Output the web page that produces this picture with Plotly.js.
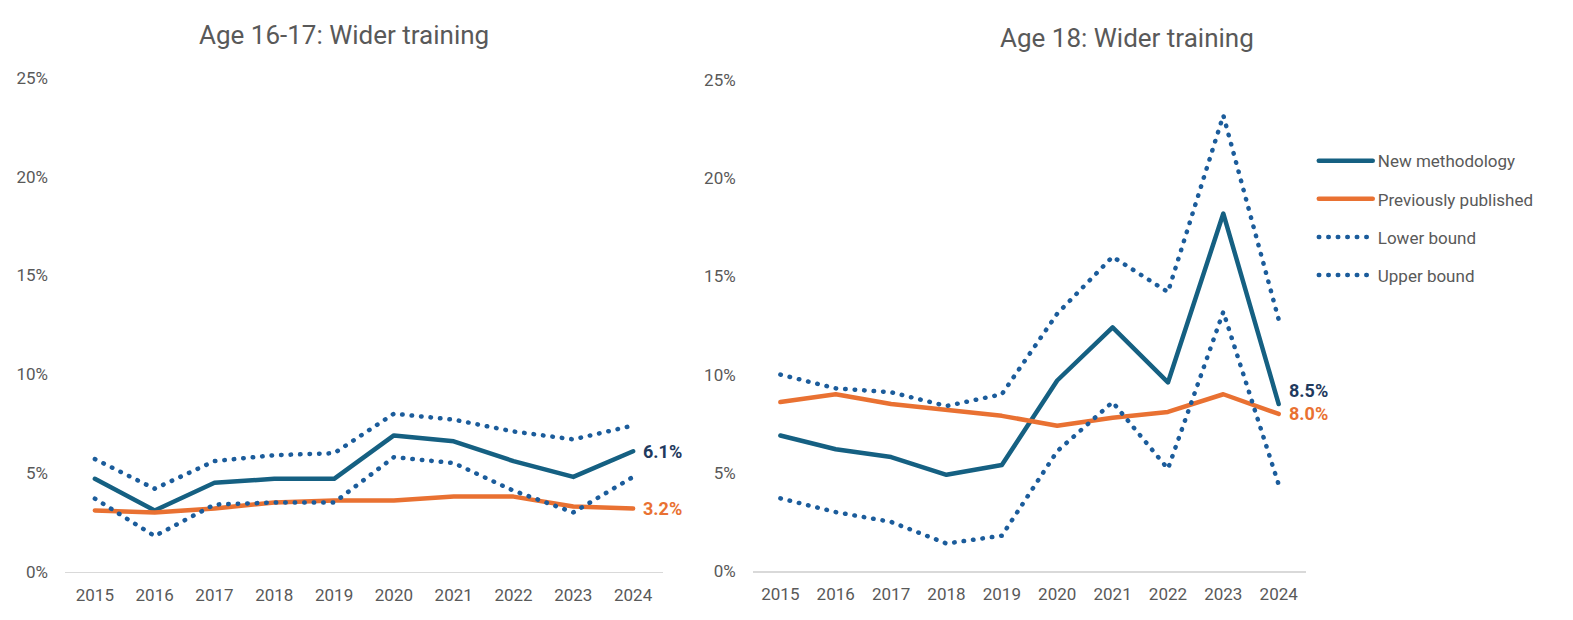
<!DOCTYPE html>
<html>
<head>
<meta charset="utf-8">
<script src="https://cdn.plot.ly/plotly-3.0.1.min.js"></script>
<style>
  html, body { margin: 0; padding: 0; background: #fff; }
  #chart { width: 1573px; height: 620px; }
  /* round dots and joins, like the office chart */
  .scatterlayer path.js-line { stroke-linecap: round; stroke-linejoin: round; }
  .legend path.js-line { stroke-linecap: round; }
</style>
</head>
<body>
<div id="chart"></div>
<script>
// years on the category axis
const years = ['2015', '2016', '2017', '2018', '2019', '2020', '2021', '2022', '2023', '2024'];

// Age 16-17 (values in %)
const young_new = [4.7, 3.1, 4.5, 4.7, 4.7, 6.9, 6.6, 5.6, 4.8, 6.1];
const young_prev = [3.1, 3.0, 3.2, 3.5, 3.6, 3.6, 3.8, 3.8, 3.3, 3.2];
const young_lower = [3.7, 1.8, 3.4, 3.5, 3.5, 5.8, 5.5, 4.1, 3.0, 4.8];
const young_upper = [5.7, 4.2, 5.6, 5.9, 6.0, 8.0, 7.7, 7.1, 6.7, 7.4];

// Age 18 (values in %)
const old_new = [6.9, 6.2, 5.8, 4.9, 5.4, 9.7, 12.4, 9.6, 18.2, 8.5];
const old_prev = [8.6, 9.0, 8.5, 8.2, 7.9, 7.4, 7.8, 8.1, 9.0, 8.0];
const old_lower = [3.7, 3.0, 2.5, 1.4, 1.8, 6.1, 8.6, 5.2, 13.2, 4.4];
const old_upper = [10.0, 9.3, 9.1, 8.4, 9.0, 13.1, 16.0, 14.2, 23.2, 12.8];

const yTicks = [0, 5, 10, 15, 20, 25];

const TEAL = '#156082';
const ORANGE = '#E97132';
const DOTBLUE = '#1B5C9B';
const NAVY = '#1F3A5E';
const GREY = '#595959';
const FONT = 'Roboto, "Liberation Sans", sans-serif';

function makeTraces(newVals, prevVals, lowVals, upVals, xa, ya, legend) {
    // one chart = 4 lines
    let dots = {color: DOTBLUE, width: 4.5, dash: '0.5px,9px'};
    return [
        {x: years, y: newVals, name: 'New methodology', legendgroup: 'a',
         line: {color: TEAL, width: 4.5}},
        {x: years, y: prevVals, name: 'Previously published', legendgroup: 'b',
         line: {color: ORANGE, width: 4.5}},
        {x: years, y: lowVals, name: 'Lower bound', legendgroup: 'c', line: dots},
        {x: years, y: upVals, name: 'Upper bound', legendgroup: 'd', line: dots}
    ].map(t => Object.assign(t, {
        type: 'scatter', mode: 'lines', xaxis: xa, yaxis: ya,
        showlegend: legend, hoverinfo: 'skip'
    }));
}

let data = [].concat(
    makeTraces(young_new, young_prev, young_lower, young_upper, 'x', 'y', false),
    makeTraces(old_new, old_prev, old_lower, old_upper, 'x2', 'y2', true)
);

function endLabel(vals, color, xref, yref, shift) {
    // label at the last point; category axes want the index here
    let last = vals[vals.length - 1];
    return {
        x: vals.length - 1, y: last, xref: xref, yref: yref,
        text: '<b>' + last.toFixed(1) + '%</b>', showarrow: false,
        xanchor: 'left', yanchor: 'middle', xshift: 8, yshift: shift || 0,
        font: {family: FONT, size: 18, color: color}
    };
}

function axisX(domain, anchor) {
    return {
        domain: domain, anchor: anchor, type: 'category', range: [-0.5, 9.5],
        showgrid: false, zeroline: false, showline: true, linecolor: '#D9D9D9', linewidth: 1.5,
        ticks: '', ticklabelstandoff: 7, fixedrange: true,
        tickfont: {family: FONT, size: 17, color: GREY}
    };
}

function axisY(domain, anchor) {
    return {
        domain: domain, anchor: anchor, range: [0, 25], tickvals: yTicks,
        ticktext: yTicks.map(v => v + '%'), showgrid: false, zeroline: false,
        showline: false, ticks: '', ticklabelstandoff: 16, fixedrange: true,
        tickfont: {family: FONT, size: 17, color: GREY}
    };
}

let layout = {
    width: 1573, height: 620,
    margin: {l: 0, r: 0, t: 0, b: 0},
    paper_bgcolor: '#fff', plot_bgcolor: '#fff',
    font: {family: FONT, color: GREY},
    xaxis: axisX([0.0413, 0.4215], 'y'),
    yaxis: axisY([0.078, 0.874], 'x'),
    xaxis2: axisX([0.4785, 0.8305], 'y2'),
    yaxis2: axisY([0.079, 0.871], 'x2'),
    showlegend: true,
    legend: {
        x: 0.8352, xanchor: 'left', y: 0.769, yanchor: 'top',
        orientation: 'v', itemwidth: 54, tracegroupgap: 13,
        font: {family: FONT, size: 17, color: GREY},
        bgcolor: 'rgba(0,0,0,0)'
    },
    annotations: [
        {text: 'Age 16-17: Wider training', x: 0.219, y: 0.944, xref: 'paper', yref: 'paper',
         showarrow: false, xanchor: 'center', yanchor: 'middle',
         font: {family: FONT, size: 26, color: GREY}},
        {text: 'Age 18: Wider training', x: 0.7165, y: 0.939, xref: 'paper', yref: 'paper',
         showarrow: false, xanchor: 'center', yanchor: 'middle',
         font: {family: FONT, size: 26, color: GREY}},
        endLabel(young_new, NAVY, 'x', 'y'),
        endLabel(young_prev, ORANGE, 'x', 'y'),
        endLabel(old_new, NAVY, 'x2', 'y2', 14),
        endLabel(old_prev, ORANGE, 'x2', 'y2')
    ]
};

Plotly.newPlot('chart', data, layout, {displayModeBar: false, staticPlot: true});
</script>
</body>
</html>
